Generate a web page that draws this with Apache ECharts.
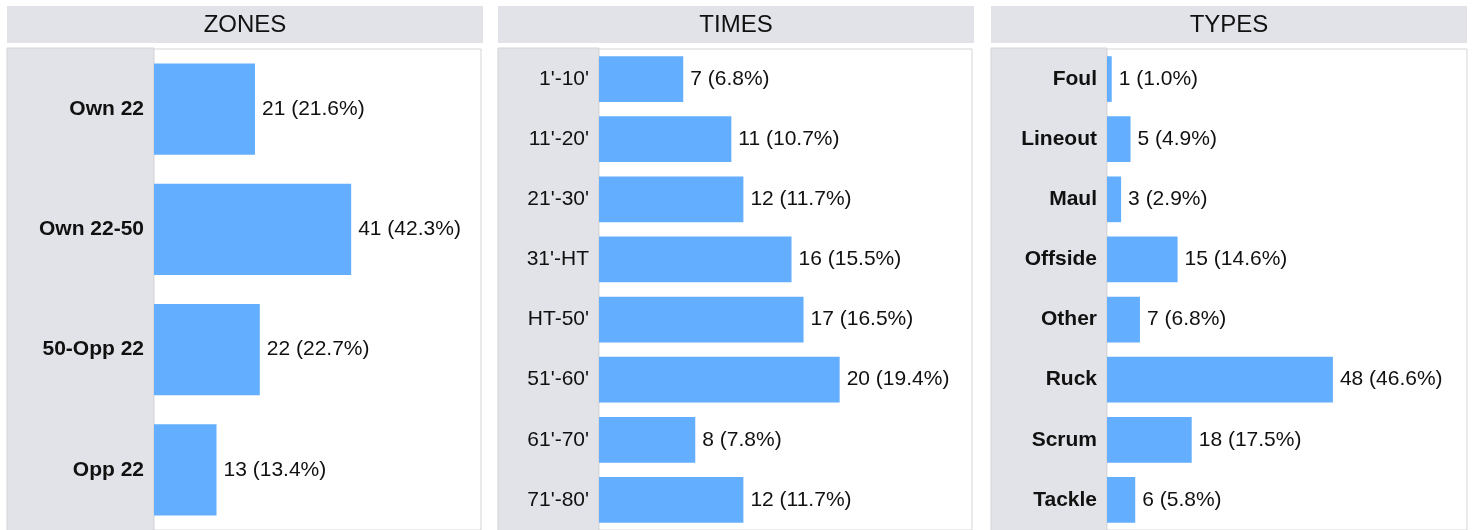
<!DOCTYPE html>
<html>
<head>
<meta charset="utf-8">
<script src="https://cdn.jsdelivr.net/npm/echarts@6/dist/echarts.min.js"></script>
<style>
html, body { margin: 0; padding: 0; background: #fff; overflow: hidden; }
#main { width: 1474px; height: 530px; }
</style>
</head>
<body>
<div id="main"></div>
<script>
var zoneNames = ['Own 22', 'Own 22-50', '50-Opp 22', 'Opp 22'];
var zoneValues = [21, 41, 22, 13];
var timeNames = ["1'-10'", "11'-20'", "21'-30'", "31'-HT", "HT-50'", "51'-60'", "61'-70'", "71'-80'"];
var timeValues = [7, 11, 12, 16, 17, 20, 8, 12];
var typeNames = ['Foul', 'Lineout', 'Maul', 'Offside', 'Other', 'Ruck', 'Scrum', 'Tackle'];
var typeValues = [1, 5, 3, 15, 7, 48, 18, 6];
var titles = ['ZONES', 'TIMES', 'TYPES'];

var myChart = echarts.init(document.getElementById('main'));

var panels = [
    { x0: 7, x1: 483, plotLeft: 154, plotRight: 481, max: 68, names: zoneNames, values: zoneValues, bold: true },
    { x0: 498, x1: 974, plotLeft: 599, plotRight: 972, max: 31, names: timeNames, values: timeValues, bold: false },
    { x0: 991, x1: 1467, plotLeft: 1107, plotRight: 1467, max: 76.5, names: typeNames, values: typeValues, bold: true }
];

function sum(arr) {
    var s = 0;
    arr.forEach(function (v) { s += v; });
    return s;
}

var font = '"Liberation Sans", Arial, sans-serif';
var grids = [], xAxes = [], yAxes = [], series = [], graphics = [];

panels.forEach(function (p, i) {
    var total = sum(p.values);
    // header bar
    graphics.push({
        type: 'rect', z: -10,
        shape: { x: p.x0, y: 6, width: p.x1 - p.x0, height: 37 },
        style: { fill: '#e2e3e8' }
    });
    graphics.push({
        type: 'text', z: -9,
        x: (p.x0 + p.x1) / 2, y: 25,
        style: {
            text: titles[i], fill: '#111', font: '24px ' + font,
            align: 'center', verticalAlign: 'middle'
        }
    });
    // label column background
    graphics.push({
        type: 'rect', z: -10,
        shape: { x: p.x0, y: 48, width: p.plotLeft - p.x0, height: 500 },
        style: { fill: '#e2e3e8', stroke: '#d4d4d8', lineWidth: 1 }
    });

    grids.push({
        left: p.plotLeft, top: 49,
        width: p.plotRight - p.plotLeft, height: 485,
        show: true, backgroundColor: '#fff', borderColor: '#d6d6d6', borderWidth: 1
    });
    xAxes.push({
        type: 'value', gridIndex: i, min: 0, max: p.max, show: false
    });
    yAxes.push({
        type: 'category', gridIndex: i, data: p.names, inverse: true,
        axisLine: { show: false }, axisTick: { show: false }, splitLine: { show: false },
        axisLabel: {
            margin: 10, color: '#111', fontSize: 21,
            fontWeight: p.bold ? 'bold' : 'normal',
            fontFamily: font
        }
    });
    series.push({
        type: 'bar', xAxisIndex: i, yAxisIndex: i, data: p.values,
        barCategoryGap: '24%',
        itemStyle: { color: '#63aeff' },
        silent: true,
        label: {
            show: true, position: 'right', distance: 7, color: '#111', fontSize: 21,
            fontFamily: font,
            formatter: function (d) {
                return d.value + ' (' + (d.value / total * 100).toFixed(1) + '%)';
            }
        }
    });
});

var option = {
    animation: false,
    grid: grids,
    xAxis: xAxes,
    yAxis: yAxes,
    series: series,
    graphic: graphics
};

myChart.setOption(option);
</script>
</body>
</html>
